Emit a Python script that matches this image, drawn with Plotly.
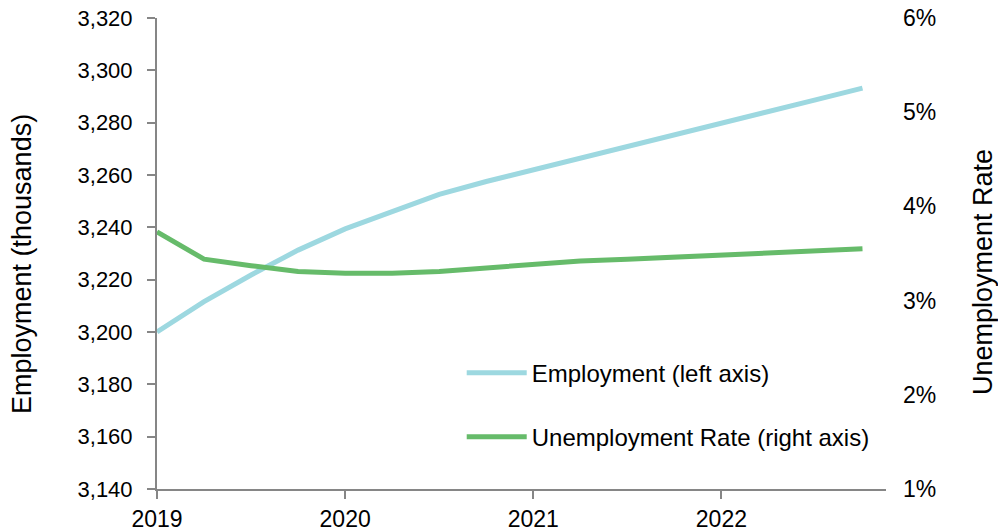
import plotly.graph_objects as go

# Quarterly series, 2019Q1 through 2022Q4
quarters = [
    "2019Q1", "2019Q2", "2019Q3", "2019Q4",
    "2020Q1", "2020Q2", "2020Q3", "2020Q4",
    "2021Q1", "2021Q2", "2021Q3", "2021Q4",
    "2022Q1", "2022Q2", "2022Q3", "2022Q4",
]
employment = [
    3200.0, 3211.6, 3221.8, 3231.3,
    3239.4, 3246.2, 3252.6, 3257.5,
    3261.9, 3266.3, 3270.7, 3275.2,
    3279.7, 3284.2, 3288.7, 3293.2,
]
unemployment_rate = [
    3.73, 3.44, 3.37, 3.31,
    3.29, 3.29, 3.31, 3.35,
    3.39, 3.42, 3.44, 3.46,
    3.48, 3.51, 3.53, 3.55,
]
year_ticks = [2019, 2020, 2021, 2022]
emp_ticks = list(range(3140, 3321, 20))
rate_ticks = [1, 2, 3, 4, 5, 6]

# quarter label -> fractional year position on the time axis
x_pos = [int(q[:4]) + (int(q[-1]) - 1) / 4 for q in quarters]

FONT = "Liberation Sans, Arial, sans-serif"
AXIS_GREY = "#868686"
CYAN = "#9DD8E0"
GREEN = "#66BB6A"

fig = go.Figure()
fig.add_trace(go.Scatter(
    x=x_pos, y=employment, mode="lines", name="Employment (left axis)",
    line=dict(color=CYAN, width=5), legendgroup="a", yaxis="y",
))
fig.add_trace(go.Scatter(
    x=x_pos, y=unemployment_rate, mode="lines",
    name="Unemployment Rate (right axis)",
    line=dict(color=GREEN, width=5), legendgroup="b", yaxis="y2",
))

fig.update_layout(
    width=998, height=531,
    margin=dict(l=157, r=112, t=18, b=42, autoexpand=False),
    paper_bgcolor="white", plot_bgcolor="white",
    font=dict(family=FONT, size=22, color="black"),
    showlegend=True,
    legend=dict(
        x=0.418, y=0.294, xanchor="left", yanchor="top",
        bgcolor="rgba(0,0,0,0)", font=dict(size=24),
        traceorder="grouped", tracegroupgap=30, itemwidth=60,
    ),
    xaxis=dict(
        range=[2019, 2022.875], tickvals=year_ticks,
        ticktext=[str(y) for y in year_ticks],
        showline=True, linecolor=AXIS_GREY, linewidth=2,
        ticks="outside", ticklen=8, tickwidth=2, tickcolor=AXIS_GREY,
        showgrid=False, zeroline=False, tickfont=dict(size=23),
    ),
    yaxis=dict(
        range=[3140, 3320], tickvals=emp_ticks,
        tickformat=",d",
        showline=True, linecolor=AXIS_GREY, linewidth=2,
        ticks="outside", ticklen=8, tickwidth=2, tickcolor=AXIS_GREY,
        showgrid=False, zeroline=False, tickfont=dict(size=22),
        ticklabelstandoff=10,
    ),
    yaxis2=dict(
        range=[1, 6], tickvals=rate_ticks,
        ticktext=[f"{v}%" for v in rate_ticks],
        overlaying="y", side="right",
        showline=False, ticks="", showgrid=False, zeroline=False,
        tickfont=dict(size=23), ticklabelstandoff=16,
    ),
    annotations=[
        dict(text="Employment (thousands)", textangle=-90,
             xref="paper", yref="paper", x=-0.1852, y=0.4777,
             xanchor="center", yanchor="middle", showarrow=False,
             font=dict(size=27)),
        dict(text="Unemployment Rate", textangle=-90,
             xref="paper", yref="paper", x=1.1331, y=0.4607,
             xanchor="center", yanchor="middle", showarrow=False,
             font=dict(size=27)),
    ],
)

fig.write_html("out.html")
